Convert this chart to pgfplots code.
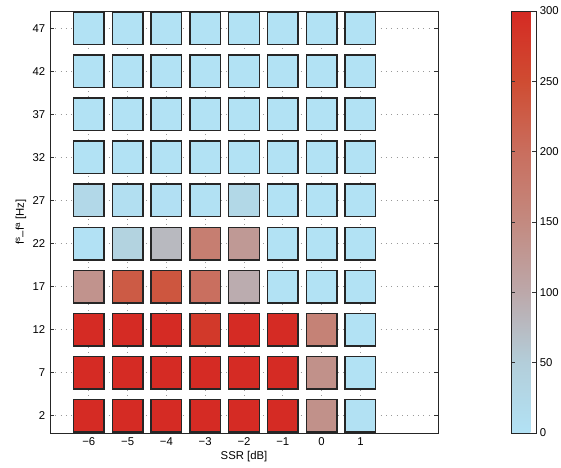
\documentclass[border=0pt]{standalone}
\usepackage{pgfplots}
\pgfplotsset{compat=1.18}
\usepackage{fontspec}
\setmainfont{Liberation Sans}
\pgfplotsset{
  colormap={ssr}{
    rgb255=(178,226,245)
    rgb255=(179,206,218)
    rgb255=(188,168,170)
    rgb255=(195,138,128)
    rgb255=(201,110,94)
    rgb255=(207,76,50)
    rgb255=(213,42,35)
  }
}
\begin{document}
\begin{tikzpicture}
\useasboundingbox (-37.5pt,-26.25pt) rectangle (383.25pt,324.75pt);
\begin{axis}[
  at={(0,0)}, anchor=south west,
  scale only axis, width=291pt, height=316.5pt,
  xmin=-7, xmax=3, ymin=0, ymax=49,
  xtick={-6,-5,-4,-3,-2,-1,0,1},
  xticklabels={−6,−5,−4,−3,−2,−1,0,1},
  ytick={2,7,12,17,22,27,32,37,42,47},
  tick align=inside, tick pos=both,
  major tick length=3pt,
  tick style={black!80, line width=0.5pt},
  axis line style={black!85, line width=0.7pt},
  ymajorgrids, xmajorgrids,
  major grid style={gray!80, line width=0.5pt, dash pattern=on 0.6pt off 3.4pt},
  /pgf/number format/assume math mode=true,
  tick label style={font=\fontsize{8.5}{10}\selectfont},
  label style={font=\fontsize{8.5}{10}\selectfont},
  xlabel={SSR [dB]},
  ylabel={f\textsuperscript{s}\raisebox{-0.35ex}{–}f\textsuperscript{a} [Hz]},
  xlabel style={yshift=3pt},
  ylabel style={yshift=-2pt},
  colormap name=ssr,
  point meta min=0, point meta max=300,
  colorbar,
  colorbar style={
    at={(parent axis.north east)}, anchor=north west, xshift=46.5pt,
    width=18.75pt,
    ytick={0,50,100,150,200,250,300},
    ytick pos=both, yticklabel pos=right,
    tick align=inside, major tick length=3pt,
    axis line style={black!85, line width=0.7pt},
    tick style={black!80, line width=0.5pt},
    /pgf/number format/assume math mode=true,
    yticklabel style={font=\fontsize{8.5}{10}\selectfont, xshift=-1pt},
  },
]
\addplot[scatter, only marks, mark=square*, scatter src=explicit,
  mark size=11.5pt,
  scatter/use mapped color={draw=black!85, fill=mapped color},
  mark options={line width=1pt, yscale=1.065}]
  table[x=x, y=y, meta=c] {
x y c
-6 47 1
-5 47 1
-4 47 1
-3 47 1
-2 47 1
-1 47 1
0 47 1
1 47 1
-6 42 1
-5 42 1
-4 42 1
-3 42 1
-2 42 1
-1 42 1
0 42 1
1 42 1
-6 37 1
-5 37 1
-4 37 1
-3 37 1
-2 37 1
-1 37 1
0 37 1
1 37 1
-6 32 1
-5 32 1
-4 32 1
-3 32 1
-2 32 1
-1 32 1
0 32 1
1 32 1
-6 27 24
-5 27 8
-4 27 4
-3 27 3
-2 27 25
-1 27 1
0 27 1
1 27 1
-6 22 2
-5 22 38
-4 22 78
-3 22 172
-2 22 125
-1 22 1
0 22 1
1 22 1
-6 17 135
-5 17 228
-4 17 235
-3 17 198
-2 17 95
-1 17 1
0 17 1
1 17 1
-6 12 298
-5 12 298
-4 12 298
-3 12 278
-2 12 298
-1 12 298
0 12 165
1 12 1
-6 7 298
-5 7 298
-4 7 298
-3 7 298
-2 7 298
-1 7 298
0 7 138
1 7 1
-6 2 298
-5 2 298
-4 2 298
-3 2 298
-2 2 298
-1 2 298
0 2 138
1 2 3
};
\end{axis}
\end{tikzpicture}
\end{document}
